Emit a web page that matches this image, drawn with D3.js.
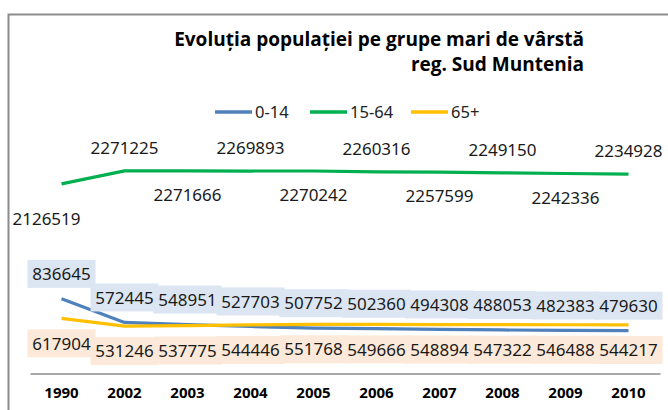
<!DOCTYPE html>
<html>
<head>
<meta charset="utf-8">
<script src="https://cdn.jsdelivr.net/npm/d3@7"></script>
<style>
  html, body { margin: 0; padding: 0; background: #fff; }
  svg { display: block; }
</style>
</head>
<body>
<svg id="chart" width="668" height="410"></svg>
<script>
// ---- data ----
const years = ["1990", "2002", "2003", "2004", "2005", "2006", "2007", "2008", "2009", "2010"];
const age0_14 = [836645, 572445, 548951, 527703, 507752, 502360, 494308, 488053, 482383, 479630];
const age15_64 = [2126519, 2271225, 2271666, 2269893, 2270242, 2260316, 2257599, 2249150, 2242336, 2234928];
const age65plus = [617904, 531246, 537775, 544446, 551768, 549666, 548894, 547322, 546488, 544217];
const seriesNames = ["0-14", "15-64", "65+"];
const titleLines = ["Evoluția populației pe grupe mari de vârstă", "reg. Sud Muntenia"];
// label placement for the 15-64 series (above / below the point)
const greenLabelSide = ["below", "above", "below", "above", "below", "above", "below", "above", "below", "above"];

// ---- layout ----
const W = 668, H = 410;
const svg = d3.select("#chart");
const numFont = "'Noto Sans', 'Liberation Sans', sans-serif";
const colors = { "0-14": "#4F81BD", "15-64": "#00B050", "65+": "#FFC000" };

const x = d3.scaleBand().domain(years).range([30, 660]);
const cx = d => x(d) + x.bandwidth() / 2;
const y = d3.scaleLinear().domain([0, 2500000]).range([373.5, 150.5]);

// frame (left + top border)
svg.append("path")
  .attr("d", "M8.5,410 L8.5,14.5 L668,14.5")
  .attr("fill", "none").attr("stroke", "#8c8c8c").attr("stroke-width", 2);

// title
const title = svg.append("g");
const t1 = title.append("text").text(titleLines[0])
  .attr("x", 584).attr("y", 46).attr("text-anchor", "end")
  .attr("font-family", "'Open Sans', 'Liberation Sans', sans-serif")
  .attr("font-weight", "bold").attr("font-size", 17).attr("fill", "#000");
const fit = 410 / t1.node().getComputedTextLength();
const tfs = 17 * fit;
t1.attr("font-size", tfs);
title.append("text").text(titleLines[1])
  .attr("x", 584).attr("y", 71).attr("text-anchor", "end")
  .attr("font-family", "'Open Sans', 'Liberation Sans', sans-serif")
  .attr("font-weight", "bold").attr("font-size", tfs).attr("fill", "#000");

// legend
const legendX = [215, 310, 411];
const leg = svg.append("g").selectAll("g").data(seriesNames).join("g")
  .attr("transform", (d, i) => `translate(${legendX[i]},112)`);
leg.append("line").attr("x1", 0).attr("x2", 37).attr("y1", 0).attr("y2", 0)
  .attr("stroke", d => colors[d]).attr("stroke-width", 3.5);
leg.append("text").text(d => d).attr("x", 40).attr("y", 0).attr("dy", "0.36em")
  .attr("font-family", numFont).attr("font-size", 16.5).attr("fill", "#222");

// x axis
const xAxis = svg.append("g").attr("transform", "translate(0,373.5)")
  .call(d3.axisBottom(x).tickSize(0).tickPadding(14));
xAxis.select(".domain").attr("stroke", "#8c8c8c").attr("stroke-width", 1.3);
xAxis.selectAll("text")
  .attr("font-family", "'Open Sans', 'Liberation Sans', sans-serif")
  .attr("font-weight", "bold").attr("font-size", 15).attr("fill", "#000");

// lines
const series = [
  { name: "0-14", values: age0_14 },
  { name: "15-64", values: age15_64 },
  { name: "65+", values: age65plus }
];
const line = d3.line().x((v, i) => cx(years[i])).y(v => y(v));
svg.append("g").selectAll("path").data(series).join("path")
  .attr("d", s => line(s.values))
  .attr("fill", "none").attr("stroke", s => colors[s.name])
  .attr("stroke-width", 3.2).attr("stroke-linejoin", "round");

// data labels
function labelPos(name, v, i) {
  const px = cx(years[i]), py = y(v);
  if (name === "0-14") return [px, py - 25];
  if (name === "65+") return [px, py + 25];
  if (i === 0) return [px - 15, py + 35];
  return greenLabelSide[i] === "above" ? [px, py - 23] : [px, py + 24];
}
const labelData = [];
series.forEach(s => s.values.forEach((v, i) => {
  const [lx, ly] = labelPos(s.name, v, i);
  labelData.push({ name: s.name, v, lx, ly });
}));
const bg = { "0-14": "#DCE6F2", "65+": "#FDE9D9" };
svg.append("g").selectAll("rect").data(labelData.filter(d => bg[d.name])).join("rect")
  .attr("x", d => d.lx - 34).attr("y", d => d.ly - 14)
  .attr("width", 68).attr("height", 28)
  .attr("fill", d => bg[d.name]);
svg.append("g").selectAll("text").data(labelData).join("text")
  .text(d => d.v).attr("x", d => d.lx).attr("y", d => d.ly).attr("dy", "0.36em")
  .attr("text-anchor", "middle")
  .attr("font-family", numFont).attr("font-size", 17).attr("fill", "#1a1a1a");
</script>
</body>
</html>
